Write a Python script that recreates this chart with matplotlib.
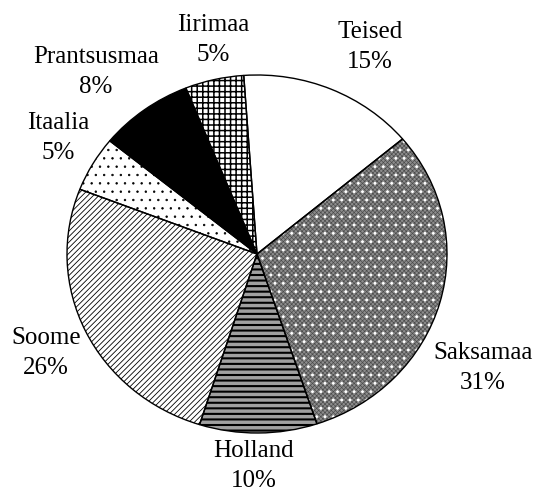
import matplotlib
matplotlib.use("Agg")
import matplotlib.pyplot as plt

# ---- data ----
labels = ["Teised", "Saksamaa", "Holland", "Soome", "Itaalia", "Prantsusmaa", "Iirimaa"]
values = [15, 31, 10, 26, 5, 8, 5]

# ---- styling ----
facecolors = ["white", "#8c8c8c", "#a0a0a0", "white", "white", "black", "white"]
hatches = [None, "xxxxxxxx", "---", "//////", "..", None, "+++"]
hatchcolors = ["black", "#4a4a4a", "black", "black", "black", "black", "black"]
hatchwidths = [1.0, 0.45, 1.5, 0.6, 0.5, 1.0, 1.1]
# label centres in pixel coords (x from left, y from top)
label_px = [(370, 47), (483, 368), (254, 466), (46, 353), (58, 138), (96, 72), (213, 40)]

W, H = 536, 491
plt.rcParams["font.family"] = ["Liberation Serif", "DejaVu Serif"]

fig = plt.figure(figsize=(W / 100, H / 100), dpi=100)
fig.patch.set_facecolor("white")
x0, x1, y0, y1 = 67, 447, 75, 433
ax = fig.add_axes([x0 / W, 1 - y1 / H, (x1 - x0) / W, (y1 - y0) / H])

startangle = 94


def set_hw(patch, lw):
    if hasattr(patch, "set_hatch_linewidth"):
        patch.set_hatch_linewidth(lw)


wedges, _ = ax.pie(values, startangle=startangle, counterclock=False,
                   colors=facecolors, wedgeprops=dict(linewidth=0))
for w, h, hc, hw in zip(wedges, hatches, hatchcolors, hatchwidths):
    if h:
        w.set_hatch(h)
        w.set_edgecolor(hc)
        set_hw(w, hw)

# white dots overlay for Saksamaa
wd, _ = ax.pie(values, startangle=startangle, counterclock=False,
               colors=["none"] * len(values), wedgeprops=dict(linewidth=0))
for i, w in enumerate(wd):
    w.set_facecolor("none")
    if labels[i] == "Saksamaa":
        w.set_hatch("..")
        w.set_edgecolor("white")
        set_hw(w, 0.9)
    else:
        w.set_edgecolor("none")

# outlines
ax.pie(values, startangle=startangle, counterclock=False,
       wedgeprops=dict(fill=False, edgecolor="black", linewidth=1.0))

ax.set_aspect("auto")
ax.set_xlim(-1, 1)
ax.set_ylim(-1, 1)
ax.axis("off")

for lab, v, (px, py) in zip(labels, values, label_px):
    fig.text(px / W, 1 - py / H, f"{lab}\n{v}%", ha="center", va="center",
             fontsize=18, linespacing=1.5)

fig.savefig("out.png", dpi=100, facecolor="white")
